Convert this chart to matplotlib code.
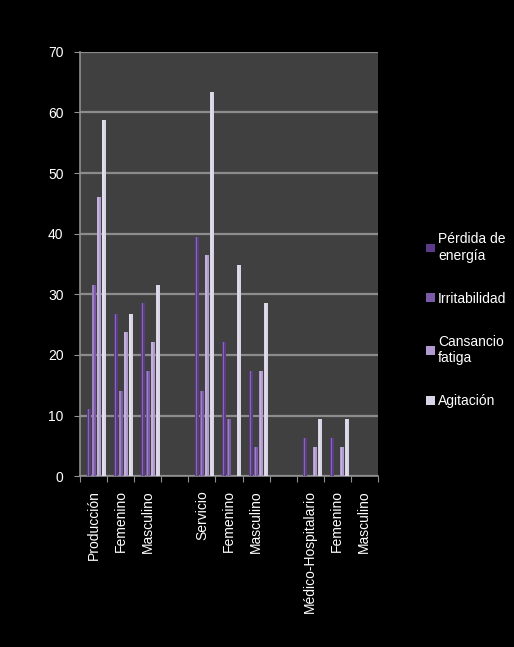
import matplotlib.pyplot as plt
import numpy as np

plt.rcParams['font.family'] = ['Liberation Sans Narrow', 'Liberation Sans', 'DejaVu Sans']

# categorías del eje x (los huecos separan los sectores)
categorias = ['Producción', 'Femenino', 'Masculino', '',
              'Servicio', 'Femenino', 'Masculino', '',
              'Médico-Hospitalario', 'Femenino', 'Masculino']

series = ['Pérdida de\nenergía', 'Irritabilidad', 'Cansancio\nfatiga', 'Agitación']

perdida = [11.0, 26.8, 28.5, 0, 39.5, 22.1, 17.3, 0, 6.3, 6.3, 0]
irritabilidad = [31.5, 14.1, 17.3, 0, 14.1, 9.5, 4.8, 0, 0, 0, 0]
cansancio = [46.0, 23.7, 22.1, 0, 36.4, 0, 17.3, 0, 4.8, 4.8, 0]
agitacion = [58.7, 26.8, 31.6, 0, 63.3, 34.8, 28.5, 0, 9.5, 9.5, 0]

valores = [perdida, irritabilidad, cansancio, agitacion]
colores = ['#5b3a8a', '#7b5aa8', '#b09ad0', '#d9d3e6']

fig = plt.figure(figsize=(5.14, 6.47), dpi=100, facecolor='black')
ax = fig.add_axes([0.156, 0.264, 0.579, 0.656])
ax.set_facecolor('#404040')

x = np.arange(len(categorias))
desplaz = [0.32, 0.50, 0.68, 0.87]
ancho = 0.15

for vals, col, d, nombre in zip(valores, colores, desplaz, series):
    vals = np.array(vals, dtype=float)
    ax.bar(x + d, vals, width=ancho, color=col, edgecolor='none',
           zorder=3, label=nombre)
    # brillo de cilindro
    ax.bar(x + d - ancho * 0.15, vals, width=ancho * 0.35, color='white',
           alpha=0.25, edgecolor='none', zorder=4)

ax.set_xlim(0, len(categorias))
ax.set_ylim(0, 70)
ax.set_yticks(range(0, 71, 10))
ax.set_xticks(np.arange(0, len(categorias) + 1), minor=False)
ax.set_xticklabels([])
ax.set_xticks(x + 0.5, minor=True)
ax.set_xticklabels(categorias, minor=True, rotation=90, va='top', ha='center',
                   color='white', fontsize=10)
ax.tick_params(axis='x', which='minor', length=0, pad=10)
ax.tick_params(axis='x', which='major', length=4, color='#909090')
ax.tick_params(axis='y', length=4, color='#909090', labelcolor='white',
               labelsize=10, pad=8)
for lbl in ax.get_yticklabels():
    lbl.set_family(['Liberation Sans', 'DejaVu Sans'])

ax.grid(axis='y', color='#8c8c8c', linewidth=1.6, zorder=1)
for lado in ['top', 'right']:
    ax.spines[lado].set_visible(False)
for lado in ['left', 'bottom']:
    ax.spines[lado].set_color('#909090')
    ax.spines[lado].set_linewidth(1.2)

leg = fig.legend(loc='center left', bbox_to_anchor=(0.805, 0.505),
                 frameon=False, fontsize=10, labelcolor='white',
                 handlelength=0.6, handleheight=0.6, handletextpad=0.25,
                 labelspacing=2.1)

fig.savefig('out.png', dpi=100, facecolor='black')
